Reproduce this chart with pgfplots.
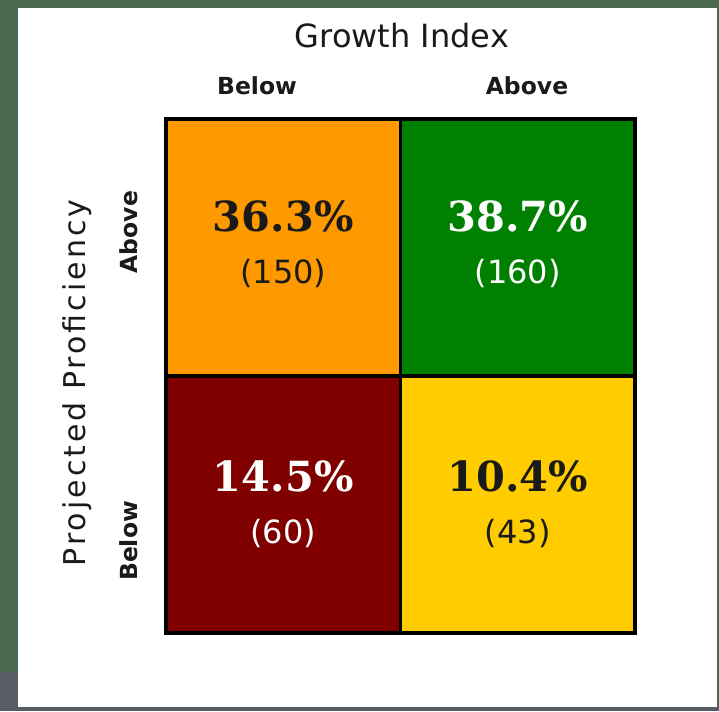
\documentclass[border=0pt]{standalone}
\usepackage{fontspec}
\setmainfont{DejaVu Sans}
\newfontfamily\pctfont{DejaVu Serif}
\usepackage{pgfplots}
\pgfplotsset{compat=1.18}
\definecolor{bgg}{HTML}{4A6A50}
\definecolor{bggray}{HTML}{585C64}
\definecolor{cOrange}{HTML}{FF9900}
\definecolor{cGreen}{HTML}{008000}
\definecolor{cRed}{HTML}{800000}
\definecolor{cYellow}{HTML}{FFCC00}
\definecolor{txt}{HTML}{1A1A1A}
\begin{document}
\begin{tikzpicture}[x=1pt,y=1pt]
\fill[bgg] (0,0) rectangle (719,711);
\fill[bggray] (0,0) rectangle (18,39);
\fill[bggray] (0,0) rectangle (719,4);
\fill[white] (18,4) rectangle (717,703);
\path[use as bounding box] (0,0) rectangle (719,711);
\begin{axis}[at={(166pt,78pt)}, anchor=south west, scale only axis,
  width=469pt, height=514pt, xmin=0, xmax=2, ymin=0, ymax=2,
  axis lines=none, clip=false]
\addplot[fill=cOrange, draw=black, line width=3.5pt, line join=miter] coordinates {(0,1) (1,1) (1,2) (0,2)} -- cycle;
\addplot[fill=cGreen, draw=black, line width=3.5pt, line join=miter] coordinates {(1,1) (2,1) (2,2) (1,2)} -- cycle;
\addplot[fill=cRed, draw=black, line width=3.5pt, line join=miter] coordinates {(0,0) (1,0) (1,1) (0,1)} -- cycle;
\addplot[fill=cYellow, draw=black, line width=3.5pt, line join=miter] coordinates {(1,0) (2,0) (2,1) (1,1)} -- cycle;
% cell texts
\node[text=txt, font=\pctfont\bfseries\fontsize{41.5}{48}\selectfont] at (axis cs:0.5,1.5) [yshift=31pt] {36.3\%};
\node[text=txt, font=\fontsize{32}{36}\selectfont] at (axis cs:0.5,1.5) [yshift=-26pt] {(150)};
\node[text=white, font=\pctfont\bfseries\fontsize{41.5}{48}\selectfont] at (axis cs:1.5,1.5) [yshift=31pt] {38.7\%};
\node[text=white, font=\fontsize{32}{36}\selectfont] at (axis cs:1.5,1.5) [yshift=-26pt] {(160)};
\node[text=white, font=\pctfont\bfseries\fontsize{41.5}{48}\selectfont] at (axis cs:0.5,0.5) [yshift=28pt] {14.5\%};
\node[text=white, font=\fontsize{32}{36}\selectfont] at (axis cs:0.5,0.5) [yshift=-29pt] {(60)};
\node[text=txt, font=\pctfont\bfseries\fontsize{41.5}{48}\selectfont] at (axis cs:1.5,0.5) [yshift=28pt] {10.4\%};
\node[text=txt, font=\fontsize{32}{36}\selectfont] at (axis cs:1.5,0.5) [yshift=-29pt] {(43)};
\end{axis}
\node[text=txt, font=\fontsize{32}{38}\selectfont] at (402,675) {Growth Index};
\node[text=txt, font=\bfseries\fontsize{23.5}{28}\selectfont] at (257,625) {Below};
\node[text=txt, font=\bfseries\fontsize{23.5}{28}\selectfont] at (527,625) {Above};
\node[text=txt, rotate=90, font=\addfontfeatures{LetterSpace=10}\fontsize{30}{36}\selectfont] at (77,328) {Projected Proficiency};
\node[text=txt, rotate=90, font=\bfseries\fontsize{23.5}{28}\selectfont] at (129,479) {Above};
\node[text=txt, rotate=90, font=\bfseries\fontsize{23.5}{28}\selectfont] at (129,170) {Below};
\end{tikzpicture}
\end{document}
